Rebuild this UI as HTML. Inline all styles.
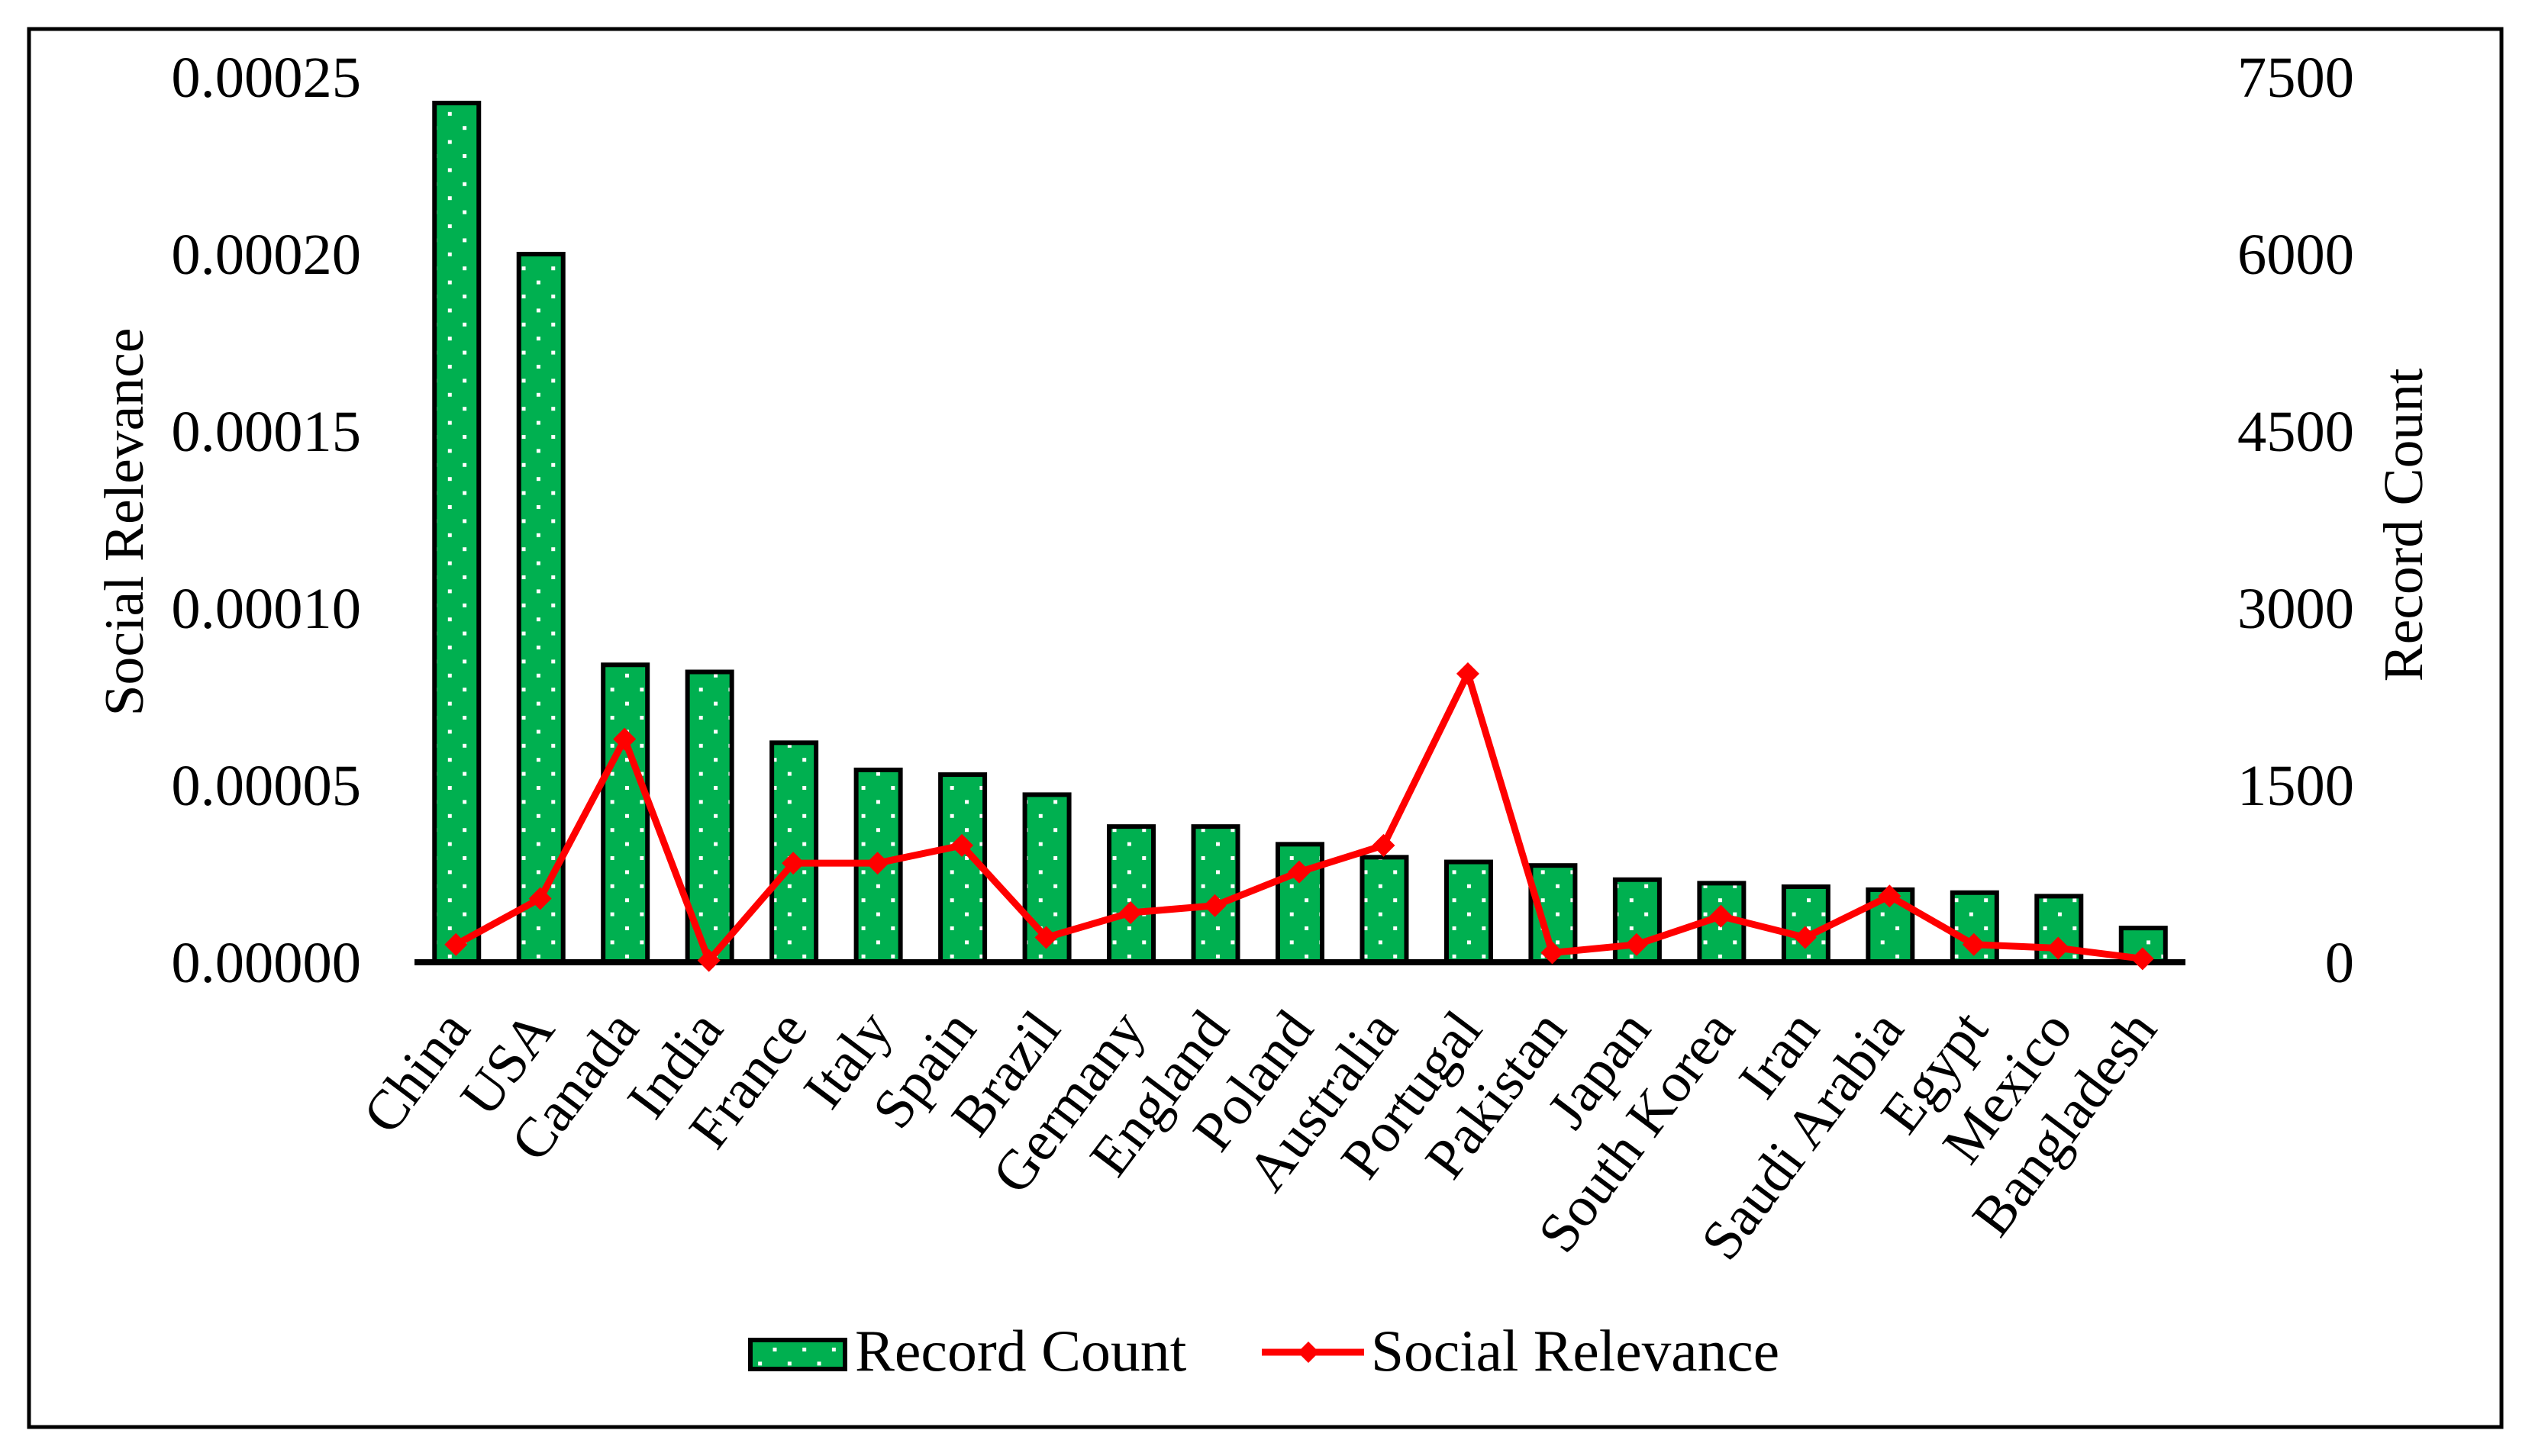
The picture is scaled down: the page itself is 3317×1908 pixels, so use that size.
<!DOCTYPE html>
<html lang="en">
<head>
<meta charset="utf-8">
<title>Social Relevance and Record Count by Country</title>
<style>
html,body{margin:0;padding:0;background:#fff;}
svg{display:block;}
text{font-family:"Liberation Serif",serif;fill:#000;}
</style>
</head>
<body>
<svg id="chart" width="3317" height="1908" viewBox="0 0 3317 1908" xmlns="http://www.w3.org/2000/svg">
  <defs>
    <pattern id="dots" patternUnits="userSpaceOnUse" x="586.8" y="146.8" width="38.7" height="36.8">
      <rect width="38.7" height="36.8" fill="#00b050"/>
      <rect x="0" y="0" width="5" height="5" fill="#fff"/>
      <rect x="19.35" y="18.4" width="5" height="5" fill="#fff"/>
    </pattern>
  </defs>
  <rect x="0" y="0" width="3317" height="1908" fill="#fff"/>
  <rect x="38" y="38" width="3239" height="1832" fill="none" stroke="#000" stroke-width="5"/>
  <g id="bars"></g>
  <line x1="543" x2="2863" y1="1261" y2="1261" stroke="#000" stroke-width="8"/>
  <g id="line-layer"></g>
  <g id="left-ticks"></g>
  <g id="right-ticks"></g>
  <g id="cat-labels"></g>
  <text transform="translate(187,684) rotate(-90)" text-anchor="middle" font-size="73.6">Social Relevance</text>
  <text transform="translate(3173,688) rotate(-90)" text-anchor="middle" font-size="73.6">Record Count</text>
  <g>
    <rect x="983" y="1756" width="124" height="38" fill="url(#dots)" stroke="#000" stroke-width="6"/>
    <text x="1120" y="1796" font-size="77.8">Record Count</text>
    <line x1="1653" x2="1787" y1="1772" y2="1772" stroke="#f00" stroke-width="9"/>
    <polygon points="1714,1758 1728,1772 1714,1786 1700,1772" fill="#f00"/>
    <text x="1796" y="1796" font-size="77.4">Social Relevance</text>
  </g>
</svg>
<script>
var categories = ["China","USA","Canada","India","France","Italy","Spain","Brazil","Germany","England","Poland","Australia","Portugal","Pakistan","Japan","South Korea","Iran","Saudi Arabia","Egypt","Mexico","Bangladesh"];
var recordCount = [7280,6000,2520,2460,1860,1630,1590,1420,1150,1150,1000,890,850,820,700,670,640,615,590,560,290];
var socialRelevance = [0.000005,0.000018,0.000063,0.0000005,0.000028,0.000028,0.000033,0.000007,0.000014,0.000016,0.0000255,0.000033,0.0000815,0.0000027,0.000005,0.000013,0.000007,0.0000187,0.000005,0.000004,0.000001];
var leftTicks = ["0.00000","0.00005","0.00010","0.00015","0.00020","0.00025"];
var rightTicks = ["0","1500","3000","4500","6000","7500"];

var NS = "http://www.w3.org/2000/svg";
var plotLeft = 543, plotRight = 2863, plotBottom = 1261, plotTop = 101;
var leftMax = 0.00025, rightMax = 7500;
var band = (plotRight - plotLeft) / categories.length;
function xPos(i){ return plotLeft + band * (i + 0.5); }
function yRight(v){ return plotBottom - (v / rightMax) * (plotBottom - plotTop); }
function yLeft(v){ return plotBottom - (v / leftMax) * (plotBottom - plotTop); }
function make(tag, parent){
  var el = document.createElementNS(NS, tag);
  parent.appendChild(el);
  return el;
}
function slug(s){ return s.toLowerCase().replace(/\s+/g, '-'); }

var barLayer = document.getElementById('bars');
var lineLayer = document.getElementById('line-layer');
var catLayer = document.getElementById('cat-labels');
var leftLayer = document.getElementById('left-ticks');
var rightLayer = document.getElementById('right-ticks');

recordCount.forEach(function(v, i){
  var r = make('rect', barLayer);
  
  
  var barW = 58;
  r.setAttribute('x', xPos(i) - barW / 2);
  r.setAttribute('y', yRight(v));
  r.setAttribute('width', barW);
  r.setAttribute('height', plotBottom - yRight(v));
  r.setAttribute('fill', 'url(#dots)');
  r.setAttribute('stroke', '#000');
  r.setAttribute('stroke-width', '6');
});

var pts = socialRelevance.map(function(v, i){ return (xPos(i) - 1) + ',' + yLeft(v); }).join(' ');
var poly = make('polyline', lineLayer);


poly.setAttribute('points', pts);
poly.setAttribute('fill', 'none');
poly.setAttribute('stroke', '#f00');
poly.setAttribute('stroke-width', '9');
poly.setAttribute('stroke-linejoin', 'round');

socialRelevance.forEach(function(v, i){
  var x = xPos(i) - 1, y = yLeft(v), s = 15;
  var m = make('polygon', lineLayer);
  
  
  m.setAttribute('points', x + ',' + (y - s) + ' ' + (x + s) + ',' + y + ' ' + x + ',' + (y + s) + ' ' + (x - s) + ',' + y);
  m.setAttribute('fill', '#f00');
});

leftTicks.forEach(function(t, i){
  var el = make('text', leftLayer);
  
  
  el.setAttribute('x', 473);
  el.setAttribute('y', yLeft(leftMax * i / (leftTicks.length - 1)) + 26);
  el.setAttribute('text-anchor', 'end');
  el.setAttribute('font-size', '76.5');
  el.textContent = t;
});

rightTicks.forEach(function(t, i){
  var el = make('text', rightLayer);
  
  
  el.setAttribute('x', 3084);
  el.setAttribute('y', yRight(rightMax * i / (rightTicks.length - 1)) + 26);
  el.setAttribute('text-anchor', 'end');
  el.setAttribute('font-size', '76.5');
  el.textContent = t;
});

categories.forEach(function(c, i){
  var el = make('text', catLayer);
  
  
  el.setAttribute('transform', 'translate(' + (xPos(i) + 20) + ',1349) rotate(-53)');
  el.setAttribute('text-anchor', 'end');
  el.setAttribute('font-size', '74');
  el.textContent = c;
});
</script>
</body>
</html>
